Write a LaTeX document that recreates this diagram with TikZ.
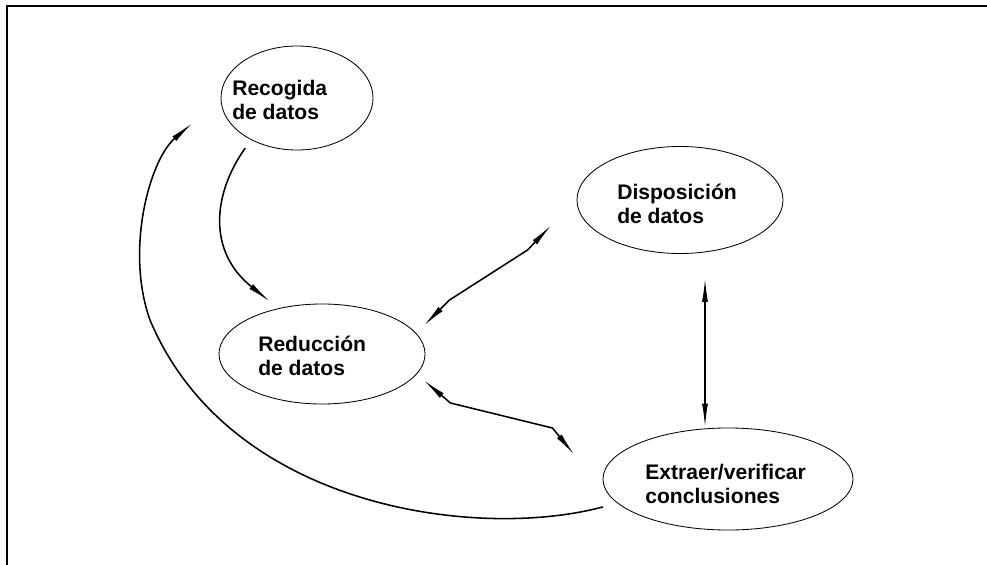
\documentclass[tikz,border=0pt]{standalone}
\usepackage{fontspec}
\setmainfont{Liberation Sans}
\usetikzlibrary{calc, shapes.geometric, arrows.meta}

\begin{document}
\begin{tikzpicture}[x = 0.025cm, y = -0.025cm,
		bubble/.style = {draw, ellipse, line width = 0.6pt, inner sep = 0pt},
		txt/.style = {right, inner sep = 0pt, align = left, font = \bfseries\fontsize{15}{17.5}\selectfont},
		link/.style = {line width = 1.1pt, line cap = round},
		> = {Latex[length = 6mm, width = 1.5mm]}]
	\useasboundingbox (0,0) rectangle (987,565);
	\draw [line width = 1.4pt] (7,565) -- (7,6) -- (987,6);

	\begin{scope}
		\node [bubble, minimum width = 3.8cm, minimum height = 2.6cm] (rec) at (297,98) {};
		\node [bubble, minimum width = 5.15cm, minimum height = 2.5cm] (red) at (322,354) {};
		\node [bubble, minimum width = 5.15cm, minimum height = 2.675cm] (dis) at (680,200) {};
		\node [bubble, minimum width = 6.25cm, minimum height = 2.55cm] (ext) at (728,479) {};
	\end{scope}
	\begin{scope}
		\node [txt] (rectxt) at (232,100) {Recogida\\de datos};
		\node [txt] (redtxt) at (258,356) {Reducción\\de datos};
		\node [txt] (distxt) at (617,204) {Disposición\\de datos};
		\node [txt] (exttxt) at (645,484) {Extraer/verificar\\conclusiones};
	\end{scope}
	\begin{scope}[link]
		\draw [->] ($(rec.south)+(-52,-2)$) .. controls +(-30,42) and +(-65,-52) .. ($(red.north)+(-52,-2)$);
		\draw [->] ($(ext.west)+(0,28)$) .. controls +(-123,33) and +(80,190) .. (150,320)
			.. controls +(-25,-70) and +(-43,37) .. ($(rec.west)+(-28,25)$);
		\draw [<->] ($(dis.west)+(-25,25)$) -- ++(-24,25) -- ++(-78,50) -- ($(red.east)+(-2,-28)$);
		\draw [<->] ($(red.east)+(-2,26)$) -- ++(27,23) -- ++(102,25) -- ($(ext.west)+(-28,-24)$);
		\draw [<->] ($(dis.south)+(25,24)$) -- ($(ext.north)+(-23,0)$);
	\end{scope}
\end{tikzpicture}
\end{document}
